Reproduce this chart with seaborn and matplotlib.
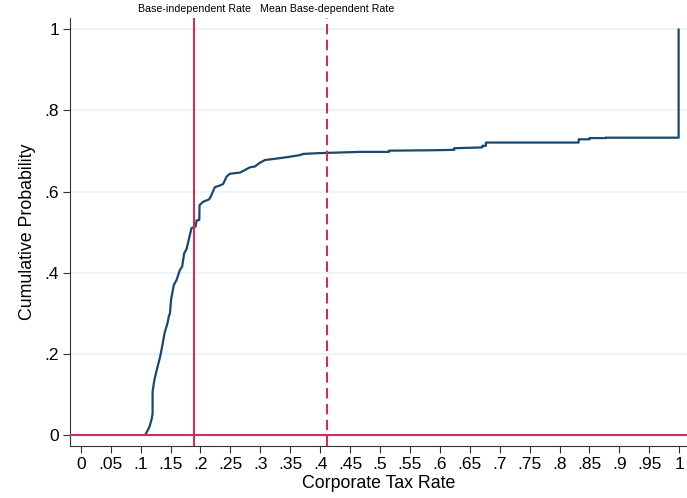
import pandas as pd
import seaborn as sns
import matplotlib.pyplot as plt
import matplotlib.transforms as mtransforms


# cumulative distribution of corporate tax rates
tax_rate = [0.1075, 0.1148, 0.1187, 0.1200, 0.1200, 0.1230, 0.1276, 0.1326,
            0.1370, 0.1400, 0.1455, 0.1470, 0.1490, 0.1510, 0.1555, 0.1600,
            0.1656, 0.1694, 0.1728, 0.1767, 0.1810, 0.1850, 0.1918, 0.1935,
            0.1980, 0.1985, 0.2045, 0.2146, 0.2185, 0.2240, 0.2324, 0.2380,
            0.2436, 0.2490, 0.2660, 0.2740, 0.2826, 0.2910, 0.2990, 0.3080,
            0.3300, 0.3495, 0.3660, 0.3720, 0.4000, 0.4670, 0.5150, 0.5150,
            0.5880, 0.6240, 0.6240, 0.6710, 0.6710, 0.6770, 0.6770, 0.8320,
            0.8320, 0.8500, 0.8500, 0.8770, 0.8770, 0.9990, 0.9990]
cum_prob = [0.000, 0.020, 0.041, 0.053, 0.107, 0.136, 0.164, 0.193,
            0.226, 0.251, 0.279, 0.292, 0.300, 0.335, 0.370, 0.382,
            0.407, 0.415, 0.448, 0.458, 0.485, 0.510, 0.514, 0.529,
            0.530, 0.567, 0.575, 0.581, 0.592, 0.611, 0.615, 0.619,
            0.637, 0.644, 0.647, 0.653, 0.660, 0.662, 0.671, 0.678,
            0.682, 0.686, 0.690, 0.693, 0.695, 0.698, 0.698, 0.701,
            0.702, 0.703, 0.707, 0.709, 0.713, 0.713, 0.721, 0.721,
            0.729, 0.729, 0.732, 0.732, 0.733, 0.733, 1.000]

# reference lines
ref_rates = [0.19, 0.412]
ref_labels = ["Base-independent Rate", "Mean Base-dependent Rate"]
ref_styles = ["-", (0, (5, 2.6))]

x_ticks = [i * 0.05 for i in range(21)]
x_tick_labels = ["0", ".05", ".1", ".15", ".2", ".25", ".3", ".35", ".4", ".45",
                 ".5", ".55", ".6", ".65", ".7", ".75", ".8", ".85", ".9", ".95", "1"]
y_ticks = [0, 0.2, 0.4, 0.6, 0.8, 1.0]
y_tick_labels = ["0", ".2", ".4", ".6", ".8", "1"]

navy = "#1a476f"
cranberry = "#c8325a"


def main():
  sns.set_theme(style="white")
  plt.rcParams['font.family'] = ['Liberation Sans', 'DejaVu Sans']
  plt.rcParams['text.color'] = 'black'
  plt.rcParams['axes.labelcolor'] = 'black'
  plt.rcParams['xtick.color'] = 'black'
  plt.rcParams['ytick.color'] = 'black'

  df = pd.DataFrame({"rate": tax_rate, "prob": cum_prob})

  fig = plt.figure(figsize=(6.87, 4.98), dpi=100)
  ax = fig.add_axes([70 / 687, 52 / 498, 617 / 687, 428 / 498])

  # light horizontal grid
  for y in y_ticks[1:]:
    ax.axhline(y, color="#e9f1f2", lw=1.1, zorder=0)

  sns.lineplot(data=df, x="rate", y="prob", estimator=None, sort=False,
               color=navy, lw=1.6, ax=ax, zorder=3)

  ax.axhline(0, color=cranberry, lw=1.5, zorder=4)
  trans = mtransforms.blended_transform_factory(ax.transData, ax.transAxes)
  for rate, label, ls in zip(ref_rates, ref_labels, ref_styles):
    ax.axvline(rate, color=cranberry, lw=1.5, linestyle=ls, zorder=4)
    ax.text(rate, 1.021, label, transform=trans, ha="center", va="center",
            fontsize=7.7, color="black")

  ax.set_xlim(-0.018, 1.013)
  ax.set_ylim(-0.027, 1.028)
  ax.set_xticks(x_ticks)
  ax.set_xticklabels(x_tick_labels)
  ax.set_yticks(y_ticks)
  ax.set_yticklabels(y_tick_labels)
  ax.tick_params(axis="both", direction="out", length=5, width=0.8,
                 color="#333333", labelsize=12.5, pad=3, left=True, bottom=True)
  ax.set_xlabel("Corporate Tax Rate", fontsize=12.8, labelpad=2)
  ax.set_ylabel("Cumulative Probability", fontsize=12.8, labelpad=6)

  sns.despine(ax=ax, top=True, right=True)
  for side in ["left", "bottom"]:
    ax.spines[side].set_color("#333333")
    ax.spines[side].set_linewidth(0.8)

  plt.savefig("out.png", dpi=100)
  plt.clf()


if __name__ == "__main__":
  main()
